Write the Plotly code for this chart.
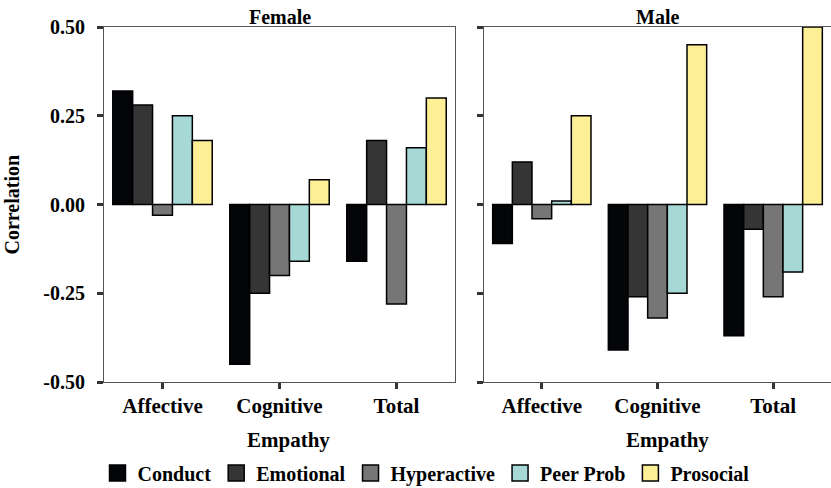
import plotly.graph_objects as go
from plotly.subplots import make_subplots

categories = ["Affective", "Cognitive", "Total"]
series = ["Conduct", "Emotional", "Hyperactive", "Peer Prob", "Prosocial"]
colors = ["#030508", "#353535", "#767676", "#a6d9d6", "#fdef95"]

female_conduct = [0.32, -0.45, -0.16]
female_emotional = [0.28, -0.25, 0.18]
female_hyperactive = [-0.03, -0.20, -0.28]
female_peer = [0.25, -0.16, 0.16]
female_prosocial = [0.18, 0.07, 0.30]

male_conduct = [-0.11, -0.41, -0.37]
male_emotional = [0.12, -0.26, -0.07]
male_hyperactive = [-0.04, -0.32, -0.26]
male_peer = [0.01, -0.25, -0.19]
male_prosocial = [0.25, 0.45, 0.50]

female = [female_conduct, female_emotional, female_hyperactive, female_peer, female_prosocial]
male = [male_conduct, male_emotional, male_hyperactive, male_peer, male_prosocial]

y_ticks = [0.5, 0.25, 0.0, -0.25, -0.5]
y_tick_labels = ["0.50", "0.25", "0.00", "-0.25", "-0.50"]

FONT = "Liberation Serif"
FS = 20
bold = dict(family=FONT, size=FS, color="black", weight="bold")
bold21 = dict(family=FONT, size=21, color="black", weight="bold")

fig = make_subplots(rows=1, cols=2)

for i, name in enumerate(series):
    fig.add_trace(go.Bar(x=categories, y=female[i], name=name, legendgroup=name,
                         marker=dict(color=colors[i], line=dict(color="black", width=1.5)),
                         showlegend=False), row=1, col=1)
for i, name in enumerate(series):
    fig.add_trace(go.Bar(x=categories, y=male[i], name=name, legendgroup=name,
                         marker=dict(color=colors[i], line=dict(color="black", width=1.5)),
                         showlegend=False), row=1, col=2)
# legend-only entries (larger square swatches)
for i, name in enumerate(series):
    fig.add_trace(go.Scatter(x=[None], y=[None], mode="markers", name=name, legendgroup=name,
                             marker=dict(symbol="square", size=18, color=colors[i],
                                         line=dict(color="black", width=1.5)),
                             showlegend=True), row=1, col=1)

W, H = 831, 488
ml, mr, mt, mb = 104, 0, 27, 106
pw = W - ml - mr
ph = H - mt - mb

axis_common = dict(showline=True, linecolor="#555555", linewidth=1, mirror=True,
                   ticks="outside", ticklen=6, tickwidth=3, tickcolor="#333333",
                   showgrid=False, zeroline=False, automargin=False)

fig.update_layout(
    width=W, height=H,
    margin=dict(l=ml, r=mr, t=mt, b=mb),
    plot_bgcolor="white", paper_bgcolor="white",
    barmode="group", bargap=0.15, bargroupgap=0,
    font=bold,
    xaxis=dict(domain=[0, 351 / pw], range=[-0.5, 2.5], ticklabelstandoff=-1,
               tickfont=bold21, **axis_common),
    xaxis2=dict(domain=[380 / pw, 1], range=[-0.5, 2.5], ticklabelstandoff=-1,
                tickfont=bold21, **axis_common),
    yaxis=dict(range=[-0.5, 0.5], tickvals=y_ticks, ticktext=y_tick_labels,
               ticklabelstandoff=8, tickfont=bold, **axis_common),
    yaxis2=dict(range=[-0.5, 0.5], tickvals=y_ticks, showticklabels=False, **axis_common),
    legend=dict(orientation="h", xref="container", x=426 / W, xanchor="center",
                yref="container", y=1 - 473 / H, yanchor="middle",
                font=bold, traceorder="normal", itemsizing="trace", itemwidth=30),
    showlegend=True,
)

fig.add_annotation(text="Female", x=(351 / pw) / 2, xref="paper", y=1.0, yref="paper",
                   xanchor="center", yanchor="bottom", showarrow=False, yshift=-3, font=bold)
fig.add_annotation(text="Male", x=(380 / pw + 1) / 2, xref="paper", y=1.0, yref="paper",
                   xanchor="center", yanchor="bottom", showarrow=False, yshift=-3, font=bold)
fig.add_annotation(text="Empathy", x=(288 - ml) / pw, xref="paper", y=-(440 - 382) / ph, yref="paper",
                   xanchor="center", yanchor="middle", showarrow=False, font=bold21)
fig.add_annotation(text="Empathy", x=(667 - ml) / pw, xref="paper", y=-(440 - 382) / ph, yref="paper",
                   xanchor="center", yanchor="middle", showarrow=False, font=bold21)
fig.add_annotation(text="Correlation", x=-(ml - 11) / pw, xref="paper", y=0.5, yref="paper",
                   xanchor="center", yanchor="middle", textangle=-90, showarrow=False, font=bold)

fig.write_html("out.html", config={"displayModeBar": False},
               post_script="document.body.style.margin='0px';document.body.style.overflow='hidden';")
